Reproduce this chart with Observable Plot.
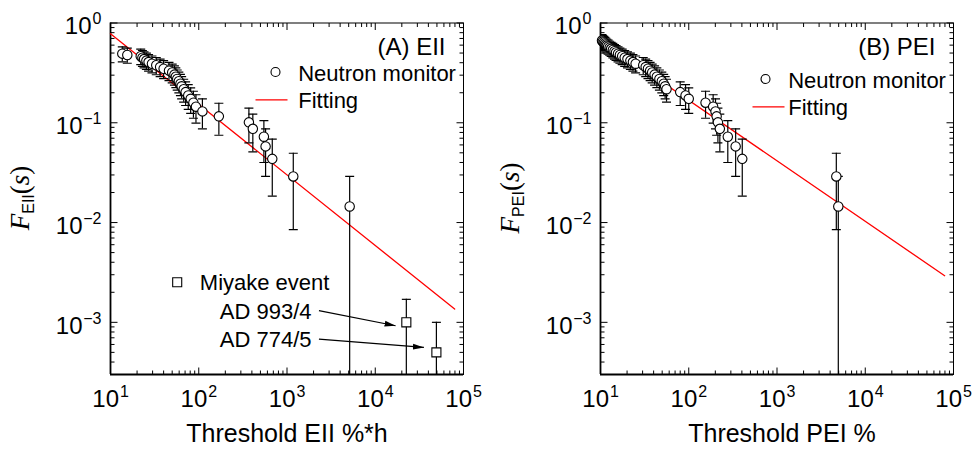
<!DOCTYPE html>
<html><head><meta charset="utf-8">
<script src="https://cdn.jsdelivr.net/npm/d3@7"></script>
<script src="https://cdn.jsdelivr.net/npm/@observablehq/plot@0.6"></script>
<style>
html,body{margin:0;padding:0;background:#fff}
#wrap{display:flex;width:975px;height:449px;overflow:hidden}
#wrap svg{display:block;background:#fff}
</style>
</head><body><div id="wrap"></div>
<script>
// ---------- Data ----------
// Panel A: EII, neutron monitor events
const eiiX  = [13.6,15.5,22,23,24,25.5,27,29.5,33,36.5,40,46,50,53,55,57,59.5,62,64,67.5,71,76,81,87,93,110,169,370,410,547,572,681,1178,5130];
const eiiY  = [0.493,0.478,0.464,0.449,0.435,0.420,0.406,0.391,0.377,0.362,0.348,0.333,0.319,0.304,0.290,0.275,0.261,0.246,0.232,0.217,0.203,0.188,0.174,0.159,0.145,0.130,0.116,0.101,0.087,0.0725,0.058,0.0435,0.029,0.0145];
const eiiLo = [0.408,0.395,0.382,0.368,0.355,0.342,0.329,0.316,0.303,0.290,0.277,0.264,0.251,0.238,0.225,0.212,0.199,0.187,0.174,0.161,0.149,0.136,0.124,0.111,0.099,0.087,0.075,0.063,0.051,0.040,0.029,0.0184,0.0085,1e-6];
const eiiHi = [0.577,0.561,0.546,0.530,0.514,0.498,0.483,0.467,0.451,0.435,0.419,0.403,0.387,0.371,0.355,0.338,0.322,0.306,0.290,0.273,0.257,0.241,0.224,0.207,0.191,0.174,0.157,0.140,0.122,0.105,0.087,0.0686,0.0495,0.029];

// Panel A: Miyake events
const miyakeX  = [22500, 49300];
const miyakeY  = [0.001, 0.0005];
const miyakeLo = [1e-6, 1e-6];
const miyakeHi = [0.0017, 0.001];
const miyakeNames = ["AD 993/4", "AD 774/5"];
// arrows from labels to Miyake points (data units)
const arrowX1 = [2300, 2300];
const arrowY1 = [0.00131, 0.00068];
const arrowX2 = [17000, 35600];
const arrowY2 = [0.000924, 0.00056];

// Panel B: PEI, neutron monitor events
const peiX  = [10.4,10.6,10.9,11.2,11.5,11.8,12.2,12.7,13.2,13.8,14.4,15.0,15.8,16.6,17.6,18.8,20.2,21.8,23.3,25.0,30.5,32.5,34.5,36.5,38.5,41,43.5,46.5,49.5,52,54,56,80,92,100,155,189,201,207,214,225,277,340,404,4700,4950];
const peiY  = [0.667,0.652,0.638,0.623,0.609,0.594,0.580,0.565,0.551,0.536,0.522,0.507,0.493,0.478,0.464,0.449,0.435,0.420,0.406,0.391,0.377,0.362,0.348,0.333,0.319,0.304,0.290,0.275,0.261,0.246,0.232,0.217,0.203,0.188,0.174,0.159,0.145,0.130,0.116,0.101,0.087,0.0725,0.058,0.0435,0.029,0.0145];
const peiLo = [0.569,0.555,0.542,0.528,0.515,0.501,0.488,0.475,0.462,0.448,0.435,0.421,0.408,0.395,0.382,0.368,0.355,0.342,0.329,0.316,0.303,0.290,0.277,0.264,0.251,0.238,0.225,0.212,0.199,0.187,0.174,0.161,0.149,0.136,0.124,0.111,0.099,0.087,0.075,0.063,0.051,0.040,0.029,0.0184,0.0085,1e-6];
const peiHi = [0.765,0.749,0.734,0.718,0.703,0.687,0.672,0.656,0.640,0.624,0.609,0.593,0.577,0.561,0.546,0.530,0.514,0.498,0.483,0.467,0.451,0.435,0.419,0.403,0.387,0.371,0.355,0.338,0.322,0.306,0.290,0.273,0.257,0.241,0.224,0.207,0.191,0.174,0.157,0.140,0.122,0.105,0.087,0.0686,0.0495,0.029];

// Fitting lines (end points)
const fitAX = [10, 79400];
const fitAY = [0.78, 0.00136];
const fitBX = [10, 79400];
const fitBY = [0.68, 0.00293];

// Axes
const xDomain = [10, 100000];
const yDomain = [0.0003, 1];
const xMajor = [10, 100, 1000, 10000, 100000];
const xExp   = ["1", "2", "3", "4", "5"];
const xMinor = [20,30,40,50,60,70,80,90,200,300,400,500,600,700,800,900,2000,3000,4000,5000,6000,7000,8000,9000,20000,30000,40000,50000,60000,70000,80000,90000];
const yMajor = [1, 0.1, 0.01, 0.001];
const yExp   = ["0", "\u22121", "\u22122", "\u22123"];
const yMinor = [0.9,0.8,0.7,0.6,0.5,0.4,0.3,0.2,0.09,0.08,0.07,0.06,0.05,0.04,0.03,0.02,0.009,0.008,0.007,0.006,0.005,0.004,0.003,0.002,0.0009,0.0008,0.0007,0.0006,0.0005,0.0004];

// ---------- Drawing ----------
const FONT = "'Liberation Sans', Arial, Helvetica, sans-serif";
const SERIF = "'Liberation Serif', 'Times New Roman', serif";
const seg = (x1, y1, x2, y2) => ({draw(ctx) { ctx.moveTo(x1, y1); ctx.lineTo(x2, y2); }});
const idx = a => a.map((_, i) => i);

function arrowMarker(color) {
  const m = d3.create("svg:marker")
    .attr("viewBox", "-5 -5 10 10")
    .attr("markerWidth", 11).attr("markerHeight", 11)
    .attr("markerUnits", "userSpaceOnUse")
    .attr("refX", 5).attr("refY", 0)
    .attr("orient", "auto")
    .attr("fill", "black").attr("stroke", "none");
  m.append("path").attr("d", "M-5,-2.6L5,0L-5,2.6Z");
  return m.node();
}

const TICK = 24, EXP = 16;

function panel({width, marginRight, X, Y, LO, HI, FX, FY, xTitle, xTitleDx, tag, legendDy, extra = []}) {
  const k = {stroke: "black", fill: "none", strokeWidth: 1};
  const ticks = [
    Plot.dot(xMajor, {x: d => d, frameAnchor: "bottom", symbol: seg(0,0,0,-7), ...k}),
    Plot.dot(xMinor, {x: d => d, frameAnchor: "bottom", symbol: seg(0,0,0,-4), ...k}),
    Plot.dot(xMajor, {x: d => d, frameAnchor: "top", symbol: seg(0,0,0,7), ...k}),
    Plot.dot(xMinor, {x: d => d, frameAnchor: "top", symbol: seg(0,0,0,4), ...k}),
    Plot.dot(yMajor, {y: d => d, frameAnchor: "left", symbol: seg(0,0,7,0), ...k}),
    Plot.dot(yMinor, {y: d => d, frameAnchor: "left", symbol: seg(0,0,4,0), ...k}),
    Plot.dot(yMajor, {y: d => d, frameAnchor: "right", symbol: seg(0,0,-7,0), ...k}),
    Plot.dot(yMinor, {y: d => d, frameAnchor: "right", symbol: seg(0,0,-4,0), ...k})
  ];
  const txt = {fontFamily: FONT, fill: "black"};
  const yPos = idx(yMajor).filter(i => i === 0);
  const yNeg = idx(yMajor).filter(i => i > 0);
  const tickLabels = [
    // x: "10" + superscript exponent
    Plot.text(xMajor, {x: d => d, text: () => "10", frameAnchor: "bottom", lineAnchor: "bottom", dy: 32, dx: 8.5, textAnchor: "end", fontSize: TICK, ...txt}),
    Plot.text(xMajor, {x: d => d, text: (d, i) => xExp[i], frameAnchor: "bottom", lineAnchor: "bottom", dy: 22.5, dx: 9.5, textAnchor: "start", fontSize: EXP, ...txt}),
    // y: exponents right-aligned, "10" placed before them
    Plot.text(yMajor, {y: d => d, text: (d, i) => yExp[i], frameAnchor: "left", lineAnchor: "bottom", dx: -9, dy: 1.3, textAnchor: "end", fontSize: EXP, ...txt}),
    Plot.text(yPos, {y: i => yMajor[i], text: () => "10", frameAnchor: "left", lineAnchor: "bottom", dx: -19, dy: 11.3, textAnchor: "end", fontSize: TICK, ...txt}),
    Plot.text(yNeg, {y: i => yMajor[i], text: () => "10", frameAnchor: "left", lineAnchor: "bottom", dx: -28, dy: 11.3, textAnchor: "end", fontSize: TICK, ...txt})
  ];
  return Plot.plot({
    width, height: 449,
    marginLeft: 110, marginRight, marginTop: 22.5, marginBottom: 75,
    style: {fontFamily: FONT, background: "white", color: "black"},
    x: {type: "log", domain: xDomain, axis: null},
    y: {type: "log", domain: yDomain, axis: null},
    marks: [
      Plot.frame({stroke: "black", strokeWidth: 1}),
      Plot.ruleX([xDomain[0]], {stroke: "black", strokeWidth: 1.8}),
      Plot.ruleY([yDomain[0]], {stroke: "black", strokeWidth: 1.8}),
      ...ticks,
      ...tickLabels,
      Plot.text([xTitle], {frameAnchor: "bottom", lineAnchor: "bottom", dy: 67.5, dx: xTitleDx, textAnchor: "middle", fontSize: 25, ...txt}),
      // fitting line
      Plot.line(idx(FX), {x: i => FX[i], y: i => FY[i], stroke: "#ff0000", strokeWidth: 1.3}),
      // error bars
      Plot.ruleX(idx(X), {x: i => X[i], y1: i => LO[i], y2: i => HI[i], stroke: "black", strokeWidth: 1.2, clip: true}),
      Plot.dot(idx(X), {x: i => X[i], y: i => HI[i], symbol: seg(-4.5,0,4.5,0), stroke: "black", fill: "none", strokeWidth: 1.2, clip: true}),
      Plot.dot(idx(X), {x: i => X[i], y: i => LO[i], symbol: seg(-4.5,0,4.5,0), stroke: "black", fill: "none", strokeWidth: 1.2, clip: true}),
      // points
      Plot.dot(idx(X), {x: i => X[i], y: i => Y[i], r: 4.7, stroke: "black", fill: "white", strokeWidth: 1.1}),
      ...extra,
      // legend
      Plot.text([tag], {frameAnchor: "top-left", dx: 335, dy: 24.5, textAnchor: "end", lineAnchor: "middle", fontSize: 24, ...txt}),
      Plot.dot([0], {frameAnchor: "top-left", dx: 165, dy: 49 + legendDy, r: 4.5, stroke: "black", fill: "white", strokeWidth: 1.1}),
      Plot.text(["Neutron monitor"], {frameAnchor: "top-left", dx: 187.7, dy: 50.5 + legendDy, textAnchor: "start", lineAnchor: "middle", fontSize: 22, ...txt}),
      Plot.dot([0], {frameAnchor: "top-left", dx: 145 + legendDy, dy: 76.8 + legendDy, symbol: seg(0,0,32,0), stroke: "#ff0000", fill: "none", strokeWidth: 1.3}),
      Plot.text(["Fitting"], {frameAnchor: "top-left", dx: 187.7, dy: 77.7 + legendDy, textAnchor: "start", lineAnchor: "middle", fontSize: 22, ...txt})
    ]
  });
}

function addYLabel(svg, sub) {
  const t = d3.select(svg).append("text")
    .attr("transform", "translate(29,198) rotate(-90)")
    .attr("text-anchor", "middle").attr("fill", "black");
  t.append("tspan").attr("font-family", SERIF).attr("font-style", "italic").attr("font-size", 27).text("F");
  t.append("tspan").attr("font-family", FONT).attr("font-size", 16).attr("dy", 5).text(sub);
  t.append("tspan").attr("font-family", SERIF).attr("font-size", 27).attr("dy", -5).text("(");
  t.append("tspan").attr("font-family", SERIF).attr("font-style", "italic").attr("font-size", 27).text("s");
  t.append("tspan").attr("font-family", SERIF).attr("font-size", 27).text(")");
}

const txtM = {fontFamily: FONT, fill: "black", fontSize: 22, textAnchor: "start", lineAnchor: "middle", frameAnchor: "top-left"};
const miyakeMarks = [
  Plot.ruleX(idx(miyakeX), {x: i => miyakeX[i], y1: i => miyakeLo[i], y2: i => miyakeHi[i], stroke: "black", strokeWidth: 1.2, clip: true}),
  Plot.dot(idx(miyakeX), {x: i => miyakeX[i], y: i => miyakeHi[i], symbol: seg(-4.5,0,4.5,0), stroke: "black", fill: "none", strokeWidth: 1.2}),
  Plot.dot(idx(miyakeX), {x: i => miyakeX[i], y: i => miyakeY[i], symbol: "square", r: 5.1, stroke: "black", fill: "white", strokeWidth: 1.1}),
  Plot.link(idx(arrowX1), {x1: i => arrowX1[i], y1: i => arrowY1[i], x2: i => arrowX2[i], y2: i => arrowY2[i], stroke: "black", strokeWidth: 1.2, markerEnd: arrowMarker}),
  Plot.dot([0], {frameAnchor: "top-left", dx: 66.7, dy: 259.2, symbol: "square", r: 5.1, stroke: "black", fill: "white", strokeWidth: 1.1}),
  Plot.text(["Miyake event"], {...txtM, dx: 89.3, dy: 259.7}),
  Plot.text([miyakeNames[0]], {...txtM, dx: 109.3, dy: 288.8}),
  Plot.text([miyakeNames[1]], {...txtM, dx: 109.3, dy: 317.2})
];

const wrap = document.getElementById("wrap");
const svgA = panel({width: 490, marginRight: 27, X: eiiX, Y: eiiY, LO: eiiLo, HI: eiiHi, FX: fitAX, FY: fitAY,
  xTitle: "Threshold EII %*h", xTitleDx: 0, tag: "(A) EII", legendDy: 0, extra: miyakeMarks});
addYLabel(svgA, "EII");
const svgB = panel({width: 485, marginRight: 22, X: peiX, Y: peiY, LO: peiLo, HI: peiHi, FX: fitBX, FY: fitBY,
  xTitle: "Threshold PEI %", xTitleDx: 5, tag: "(B) PEI", legendDy: 7});
addYLabel(svgB, "PEI");
wrap.appendChild(svgA);
wrap.appendChild(svgB);
</script>
</body></html>
